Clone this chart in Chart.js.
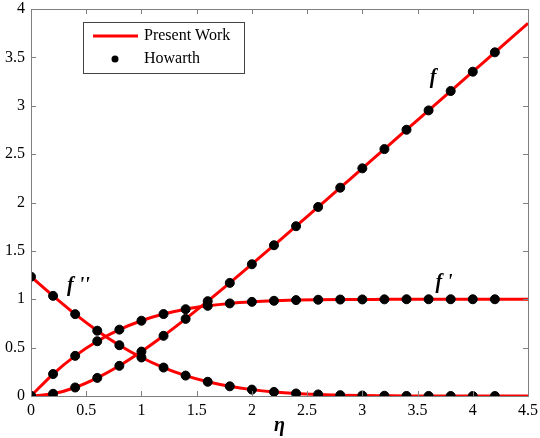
<!DOCTYPE html>
<html>
<head>
<meta charset="utf-8">
<script src="https://cdn.jsdelivr.net/npm/chart.js@4.4.0/dist/chart.umd.min.js"></script>
<style>
  html, body { margin: 0; padding: 0; background: #fff; }
  #wrap { width: 540px; height: 438px; }
</style>
</head>
<body>
<div id="wrap"><canvas id="blasiusChart" width="540" height="438"></canvas></div>
<script>
// eta grid of the tabulated (Howarth) points
const eta = [0, 0.2, 0.4, 0.6, 0.8, 1.0, 1.2, 1.4, 1.6, 1.8, 2.0, 2.2, 2.4, 2.6, 2.8, 3.0, 3.2, 3.4, 3.6, 3.8, 4.0, 4.2];
const fVals = [0, 0.023, 0.088, 0.187, 0.312, 0.459, 0.622, 0.797, 0.980, 1.169, 1.362, 1.558, 1.755, 1.954, 2.153, 2.353, 2.552, 2.752, 2.952, 3.152, 3.352, 3.552];
const fpVals = [0, 0.227, 0.415, 0.566, 0.686, 0.778, 0.847, 0.897, 0.932, 0.957, 0.973, 0.984, 0.991, 0.995, 0.997, 0.998, 0.999, 1.0, 1.0, 1.0, 1.0, 1.0];
const fppVals = [1.233, 1.035, 0.846, 0.675, 0.525, 0.398, 0.294, 0.211, 0.147, 0.100, 0.066, 0.042, 0.026, 0.016, 0.009, 0.005, 0.003, 0.001, 0.001, 0.0, 0.0, 0.0];

// present work curves continue to the end of the axis
const etaLine = eta.concat([4.5]);
const fLine = fVals.concat([3.852]);
const fpLine = fpVals.concat([1.0]);
const fppLine = fppVals.concat([0.0]);

const xTicks = [0, 0.5, 1, 1.5, 2, 2.5, 3, 3.5, 4, 4.5];
const yTicks = [0, 0.5, 1, 1.5, 2, 2.5, 3, 3.5, 4];

const curveLabels = [
    { text: "f", x: 3.64, y: 3.29 },
    { text: "f '", x: 3.74, y: 1.17 },
    { text: "f ''", x: 0.43, y: 1.14 }
];

const toPts = (xs, ys) => xs.map((x, i) => ({ x: x, y: ys[i] }));

const serif = "'Liberation Serif', 'DejaVu Serif', serif";
const axisColor = '#7f7f7f';

function lineSet(ys) {
    return {
        label: 'Present Work',
        data: toPts(etaLine, ys),
        type: 'line',
        borderColor: '#ff0000',
        borderWidth: 3,
        pointRadius: 0,
        cubicInterpolationMode: 'monotone',
        fill: false,
        order: 2
    };
}
function dotSet(ys) {
    return {
        label: 'Howarth',
        data: toPts(eta, ys),
        type: 'scatter',
        backgroundColor: '#000',
        borderColor: '#000',
        pointRadius: 4.5,
        showLine: false,
        order: 1
    };
}

// box frame, inward ticks, curve labels and legend
const decorations = {
    id: 'decorations',
    afterDraw(chart) {
        const ctx = chart.ctx;
        const a = chart.chartArea;
        const xs = chart.scales.x, ys = chart.scales.y;
        ctx.save();
        ctx.strokeStyle = axisColor;
        ctx.lineWidth = 1;
        ctx.strokeRect(a.left + 0.5, a.top + 0.5, a.right - a.left, a.bottom - a.top);
        ctx.beginPath();
        xTicks.forEach(v => {
            const px = Math.round(xs.getPixelForValue(v)) + 0.5;
            ctx.moveTo(px, a.bottom); ctx.lineTo(px, a.bottom - 5);
            ctx.moveTo(px, a.top); ctx.lineTo(px, a.top + 5);
        });
        yTicks.forEach(v => {
            const py = Math.round(ys.getPixelForValue(v)) + 0.5;
            ctx.moveTo(a.left, py); ctx.lineTo(a.left + 5, py);
            ctx.moveTo(a.right, py); ctx.lineTo(a.right - 5, py);
        });
        ctx.stroke();

        // curve names
        ctx.fillStyle = '#000';
        ctx.font = "italic bold 20px " + serif;
        ctx.textAlign = 'center';
        ctx.textBaseline = 'middle';
        curveLabels.forEach(l => {
            ctx.fillText(l.text, xs.getPixelForValue(l.x), ys.getPixelForValue(l.y));
        });

        // legend
        const lx = a.left + 52, ly = a.top + 13, lw = 161, lh = 51;
        ctx.fillStyle = '#fff';
        ctx.fillRect(lx, ly, lw, lh);
        ctx.strokeStyle = '#444';
        ctx.strokeRect(lx + 0.5, ly + 0.5, lw, lh);
        const dsLine = chart.data.datasets[0], dsDot = chart.data.datasets[3];
        ctx.strokeStyle = dsLine.borderColor;
        ctx.lineWidth = 3;
        ctx.beginPath();
        ctx.moveTo(lx + 10, ly + 14); ctx.lineTo(lx + 55, ly + 14);
        ctx.stroke();
        ctx.fillStyle = '#000';
        ctx.beginPath();
        ctx.arc(lx + 32, ly + 37, 3.5, 0, Math.PI * 2);
        ctx.fill();
        ctx.font = "16px " + serif;
        ctx.textAlign = 'left';
        ctx.fillText(dsLine.label, lx + 61, ly + 14);
        ctx.fillText(dsDot.label, lx + 61, ly + 37);
        ctx.restore();
    }
};

const ctx = document.getElementById('blasiusChart').getContext('2d');
new Chart(ctx, {
    type: 'scatter',
    data: {
        datasets: [
            lineSet(fLine), lineSet(fpLine), lineSet(fppLine),
            dotSet(fVals), dotSet(fpVals), dotSet(fppVals)
        ]
    },
    options: {
        responsive: false,
        animation: false,
        layout: { padding: { top: 9, right: 12, left: 0, bottom: 0 } },
        plugins: {
            legend: { display: false },
            tooltip: { enabled: false }
        },
        scales: {
            x: {
                type: 'linear',
                min: 0, max: 4.5,
                afterBuildTicks: s => { s.ticks = xTicks.map(v => ({ value: v })); },
                afterFit: s => { s.height = 42; s.paddingLeft = 0; s.paddingRight = 0; },
                grid: { display: false, drawTicks: false },
                border: { display: false },
                ticks: {
                    color: '#000', padding: 5,
                    font: { family: serif, size: 16 },
                    maxRotation: 0,
                    callback: v => String(v)
                },
                title: {
                    display: true, text: 'η', color: '#000',
                    font: { family: serif, size: 20, style: 'italic', weight: 'bold' },
                    padding: { top: 0, bottom: 0 }
                }
            },
            y: {
                type: 'linear',
                min: 0, max: 4,
                afterBuildTicks: s => { s.ticks = yTicks.map(v => ({ value: v })); },
                afterFit: s => { s.width = 31; s.paddingTop = 0; s.paddingBottom = 0; },
                grid: { display: false, drawTicks: false },
                border: { display: false },
                ticks: {
                    color: '#000', padding: 6,
                    font: { family: serif, size: 16 },
                    callback: v => String(v)
                }
            }
        }
    },
    plugins: [decorations]
});
</script>
</body>
</html>
